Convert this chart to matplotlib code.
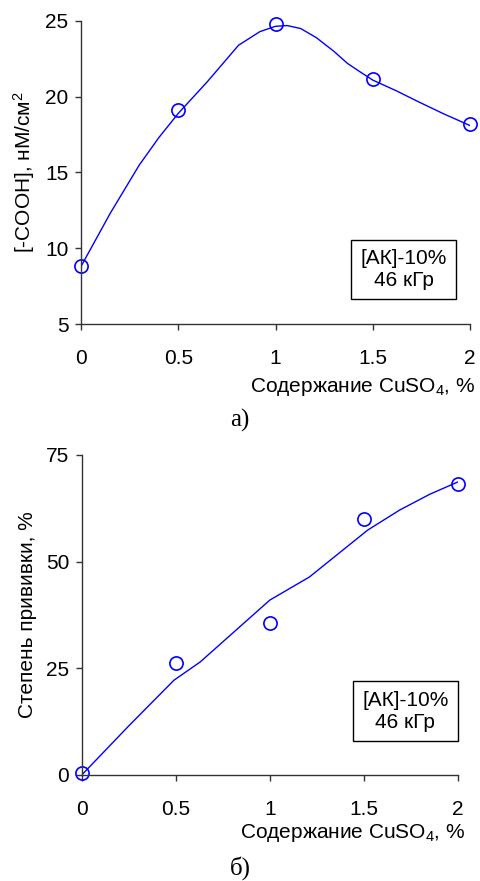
import matplotlib
matplotlib.use("Agg")
import matplotlib.pyplot as plt

plt.rcParams['font.family'] = ['Liberation Sans', 'DejaVu Sans']
plt.rcParams['mathtext.fontset'] = 'custom'
plt.rcParams['mathtext.rm'] = 'Liberation Sans'
plt.rcParams['mathtext.default'] = 'regular'

# Data
cuso4 = [0, 0.5, 1, 1.5, 2]
cooh = [8.8, 19.1, 24.8, 21.2, 18.2]
graft = [0.4, 26.3, 35.7, 60.0, 68.3]

# smoothed trend lines
cooh_fit_x = [0, 0.15, 0.30, 0.40, 0.50, 0.65, 0.81, 0.92, 1.00, 1.06, 1.13, 1.21, 1.30, 1.37, 1.44, 1.50, 1.62, 1.73, 1.86, 2.00]
cooh_fit_y = [8.8, 12.3, 15.5, 17.3, 18.9, 21.0, 23.4, 24.3, 24.65, 24.7, 24.5, 23.9, 23.0, 22.2, 21.6, 21.1, 20.4, 19.7, 18.9, 18.1]
graft_fit_x = [0, 0.25, 0.49, 0.63, 0.88, 1.00, 1.21, 1.52, 1.69, 1.85, 2.00]
graft_fit_y = [0, 11.5, 22.2, 26.5, 36.3, 41.0, 46.4, 57.4, 62.1, 65.8, 68.7]

BLUE = '#0000ff'
W, H = 481, 881
FS = 15

fig = plt.figure(figsize=(W / 100, H / 100), dpi=100)


def make_axes(left, right, top, bottom):
    return fig.add_axes([left / W, 1 - bottom / H, (right - left) / W, (bottom - top) / H])


def style_axes(ax):
    for side in ('top', 'right'):
        ax.spines[side].set_visible(False)
    for side in ('left', 'bottom'):
        ax.spines[side].set_color('#333333')
        ax.spines[side].set_linewidth(1.0)
    ax.tick_params(direction='out', length=4, width=1, color='#333333', labelsize=FS)
    ax.tick_params(axis='x', pad=14)
    ax.tick_params(axis='y', pad=5)
    ax.set_xlim(0, 2)
    ax.set_xticks(cuso4)
    ax.set_xticklabels(['0', '0.5', '1', '1.5', '2'])


def add_box(ax, x, y):
    ax.text(x, y, '[АК]-10%\n46 кГр', transform=ax.transAxes, ha='center', va='center',
            fontsize=FS, linespacing=1.2,
            bbox=dict(boxstyle='square,pad=0.45', facecolor='white', edgecolor='black', linewidth=1))


# a) carboxyl groups
ax1 = make_axes(81, 470, 21, 324)
ax1.plot(cooh_fit_x, cooh_fit_y, color=BLUE, lw=1)
ax1.plot(cuso4, cooh, 'o', mfc='none', mec=BLUE, ms=9.5, mew=1.2, clip_on=False)
ax1.set_ylim(5, 25)
ax1.set_yticks([5, 10, 15, 20, 25])
style_axes(ax1)
ax1.set_ylabel('[-COOH], нМ/см$^2$', fontsize=FS, labelpad=6)
add_box(ax1, 0.83, 0.18)
fig.text(475 / W, 1 - 387 / H, 'Содержание CuSO$_4$, %', ha='right', va='center', fontsize=FS)
fig.text(240 / W, 1 - 420 / H, 'а)', ha='center', va='center', fontsize=18, family='Liberation Serif')

# б) grafting degree
ax2 = make_axes(81.7, 458, 455, 775)
ax2.plot(graft_fit_x, graft_fit_y, color=BLUE, lw=1)
ax2.plot(cuso4, graft, 'o', mfc='none', mec=BLUE, ms=9.5, mew=1.2, clip_on=False)
ax2.set_ylim(0, 75)
ax2.set_yticks([0, 25, 50, 75])
style_axes(ax2)
ax2.set_ylabel('Степень прививки, %', fontsize=FS, labelpad=6)
add_box(ax2, 0.86, 0.20)
fig.text(465 / W, 1 - 833 / H, 'Содержание CuSO$_4$, %', ha='right', va='center', fontsize=FS)
fig.text(240 / W, 1 - 868 / H, 'б)', ha='center', va='center', fontsize=18, family='Liberation Serif')

fig.savefig('out.png', dpi=100)
